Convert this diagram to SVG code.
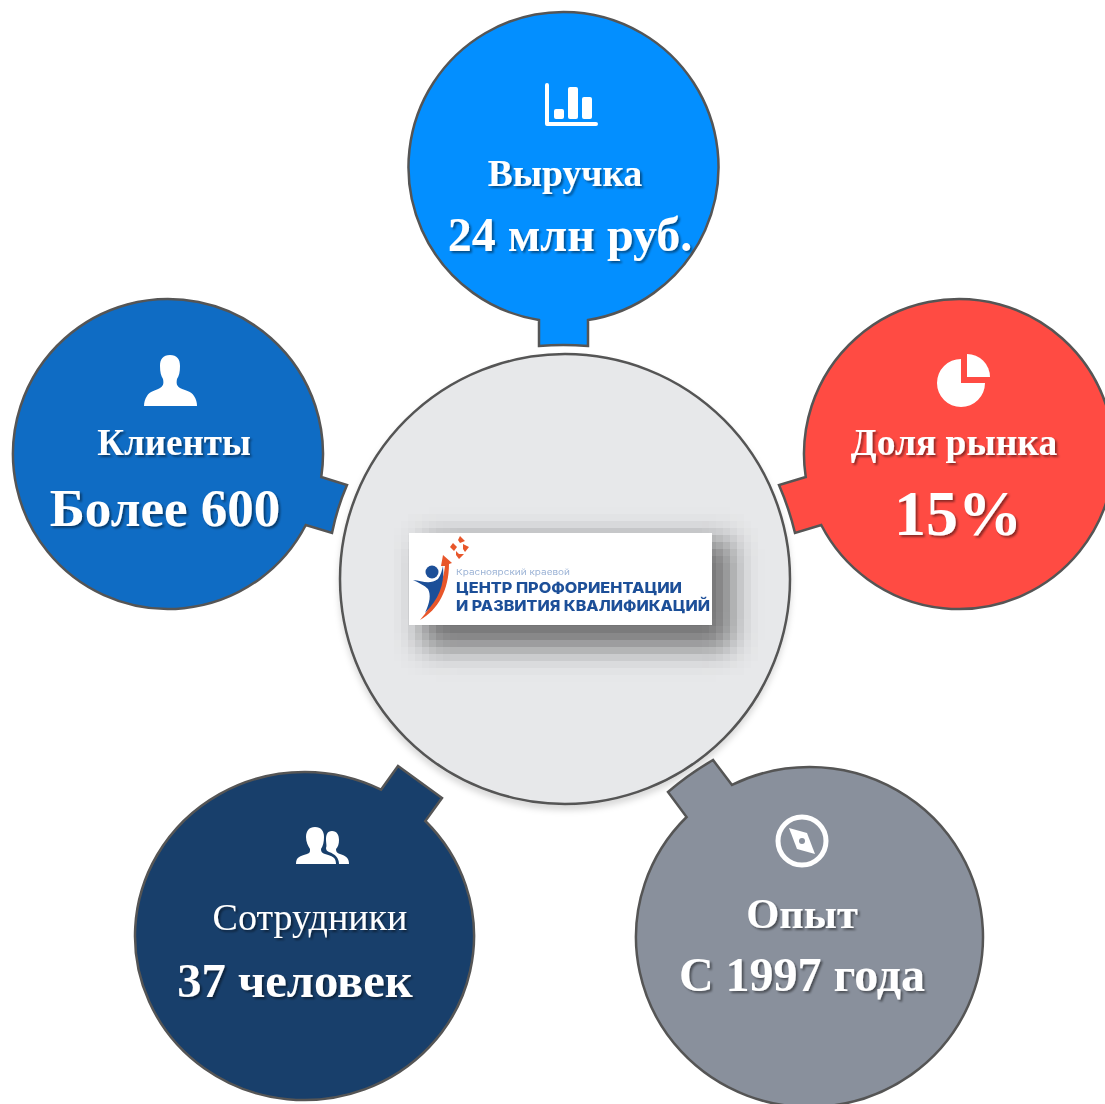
<svg xmlns="http://www.w3.org/2000/svg" width="1105" height="1104" viewBox="0 0 1105 1104">
<defs>
<style>
.b{stroke:#555;stroke-width:2.500;stroke-linejoin:miter}
.t{font-family:"Liberation Serif","Times New Roman",serif;fill:#fff;text-anchor:middle;filter:url(#ts)}
.bd{font-weight:bold}
.i{fill:#fff}
.lg{font-family:"Inter","Liberation Sans",sans-serif;font-weight:800;fill:#1f4f98}
</style>
<filter id="ts" x="-10%" y="-20%" width="120%" height="150%"><feDropShadow dx="2" dy="2" stdDeviation="1.300" flood-color="#000" flood-opacity=".45"/></filter>
<filter id="cs" x="-10%" y="-10%" width="120%" height="120%"><feDropShadow dx="0" dy="5" stdDeviation="3" flood-color="#000" flood-opacity=".15"/></filter>
<filter id="ls" filterUnits="userSpaceOnUse" primitiveUnits="userSpaceOnUse" x="380" y="500" width="400" height="200" color-interpolation-filters="sRGB">
<feGaussianBlur in="SourceGraphic" stdDeviation="14" result="b"/>
<feFlood x="383" y="503" width="1" height="1" flood-color="#000"/>
<feComposite x="380" y="500" width="7" height="7"/>
<feTile x="380" y="500" width="400" height="200" result="t"/>
<feComposite in="b" in2="t" operator="in" x="380" y="500" width="400" height="200"/>
<feMorphology operator="dilate" radius="3" x="380" y="500" width="400" height="200"/>
</filter>
<filter id="sb"><feGaussianBlur stdDeviation=".4"/></filter>
</defs>
<rect width="1105" height="1104" fill="#fff"/>
<g id="center">
<circle cx="565" cy="579" r="225" fill="#e7e8ea" class="b" filter="url(#cs)"/>
<rect x="422" y="540" width="310" height="108" fill="#444" opacity=".72" filter="url(#ls)"/>
<g id="logo">
<rect x="409" y="533" width="303" height="92" fill="#fff"/>
<g filter="url(#sb)">
<path d="M460,536l5,5-5,2-2-3zM453,543l4,4-3,4-4-4zM463,544l6,3-4,5-2-3zM456,551l3,3 5,0-5,5-3-4z" fill="#e8562a"/>
<path d="M443,555L452,563 449,564C449,590 438,610 420,620 433,605 443,585 445,566L441,566z" fill="#e8562a"/>
<circle cx="432" cy="572" r="6.500" fill="#1f4f98"/>
<path d="M413,580C422,581 430,585 438,579 441,575 442,570 443,566 445,585 438,600 425,613 430,602 431,595 428,589 424,585 419,583 413,580z" fill="#1f4f98"/>
<text x="456" y="575" font-size="8" textLength="114" lengthAdjust="spacingAndGlyphs" style="font-family:Inter,'Liberation Sans',sans-serif;fill:#9db4d6">Красноярский краевой</text>
<text class="lg" x="456" y="593" font-size="15" textLength="226" lengthAdjust="spacingAndGlyphs">ЦЕНТР ПРОФОРИЕНТАЦИИ</text>
<text class="lg" x="456" y="611" font-size="15" textLength="254" lengthAdjust="spacingAndGlyphs">И РАЗВИТИЯ КВАЛИФИКАЦИЙ</text>
</g>
</g>
</g>
<g id="revenue">
<path class="b" fill="#038fff" d="M539,320.050A155,155 0 1 1 588,320.050V346Q563,344 539,346Z"/>
<g class="i">
<path d="M547,85V124H596" fill="none" stroke="#fff" stroke-width="4" stroke-linecap="round" stroke-linejoin="round"/>
<rect x="554" y="109" width="10" height="10" rx="2"/>
<rect x="568" y="87" width="10" height="32" rx="2"/>
<rect x="582" y="97" width="10" height="22" rx="2"/>
</g>
<text class="t bd" x="565" y="186" font-size="37.500">Выручка</text>
<text class="t bd" x="570" y="251" font-size="48">24 млн руб.</text>
</g>
<g id="clients">
<path class="b" fill="#0f6cc4" d="M321.280,477L347,485Q337,508 332,533L305.780,525A155,155 0 1 1 321.280,477Z"/>
<path class="i" d="M170,355C177,355 180,359 180,366C180,372 179,376 177,379C176,384 177,386 180,388C186,391 191,391 194,396C196,399 197,402 197,406H144C144,402 145,399 147,396C150,391 155,391 160,388C163,386 164,384 163,379C161,376 160,372 160,366C160,359 163,355 170,355Z"/>
<text class="t bd" x="174" y="455" font-size="37">Клиенты</text>
<text class="t bd" x="165" y="526" font-size="53">Более 600</text>
</g>
<g id="share">
<path class="b" fill="#ff4b43" d="M805.720,477L779,485Q789,508 795,533L821.220,525A155,155 0 1 0 805.720,477Z"/>
<g class="i">
<path d="M961,359V383H985A24,24 0 1 1 961,359Z"/>
<path d="M967,354V377H990A23,23 0 0 0 967,354Z"/>
</g>
<text class="t bd" x="954" y="455" font-size="37.500">Доля рынка</text>
<text class="t bd" x="958" y="535" font-size="64">15%</text>
</g>
<g id="staff">
<path class="b" fill="#183f6b" d="M381,789.700L398,766L442,798L425.300,821A169.500,164 0 1 1 381,789.700Z"/>
<g class="i">
<path d="M315,827C321,827 324,831 324,837C324,842 323,846 321,849C321,852 322,853 325,854C332,856 336,857 336,864H296C296,857 300,856 307,854C310,853 310,852 310,849C308,846 306,842 306,837C306,831 309,827 315,827Z"/>
<path d="M332,831C337,831 339,835 339,840C339,844 338,847 336,849C336,852 337,853 340,854C346,856 349,858 349,864H339C339,858 335,854 329,852C327,851 326,850 326,848C327,846 326,843 326,840C326,835 327,831 332,831Z"/>
</g>
<text class="t" x="310" y="930" font-size="38">Сотрудники</text>
<text class="t bd" x="295" y="997" font-size="48.500">37 человек</text>
</g>
<g id="experience">
<path class="b" fill="#89909c" d="M732,784.900L713,760Q689,774 668,792L686.600,817A173.500,170 0 1 0 732,784.900Z"/>
<circle cx="802" cy="841" r="24" fill="none" stroke="#fff" stroke-width="5"/>
<path class="i" d="M789,828L807,833L815,854L797,849Z"/>
<circle cx="802" cy="841" r="3" fill="#89909c"/>
<text class="t bd" x="802" y="928" font-size="42.500">Опыт</text>
<text class="t bd" x="802" y="991" font-size="48">С 1997 года</text>
</g>
</svg>
